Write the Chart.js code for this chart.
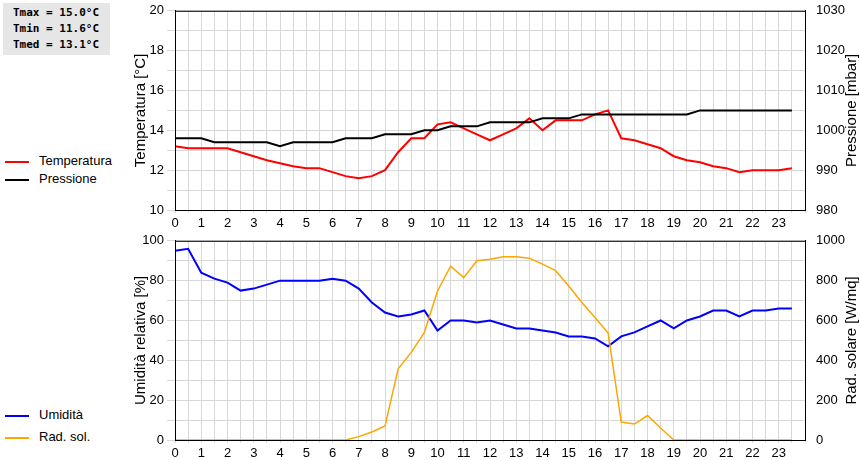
<!DOCTYPE html>
<html>
<head>
<meta charset="utf-8">
<script src="https://cdn.jsdelivr.net/npm/chart.js@4/dist/chart.umd.min.js"></script>
<style>
body{margin:0;background:#fff;font-family:"Liberation Sans",sans-serif;}
#wrap{position:relative;width:860px;height:460px;}
.cv{position:absolute;left:130px;width:730px;height:230px;}
#info{position:absolute;left:3px;top:3px;width:107px;height:52px;background:#e6e6e6;font:bold 11px "DejaVu Sans Mono",monospace;line-height:16px;padding:2px 0 0 10px;box-sizing:border-box;}
.leg{position:absolute;left:5px;font-size:13px;}
.leg span{display:inline-block;width:24px;height:2px;vertical-align:middle;margin-right:10px;}
</style>
</head>
<body>
<div id="wrap">
<div id="info">Tmax = 15.0°C<br>Tmin = 11.6°C<br>Tmed = 13.1°C</div>
<div class="leg" style="top:153px"><span style="background:#f00"></span>Temperatura</div>
<div class="leg" style="top:171px"><span style="background:#000"></span>Pressione</div>
<div class="leg" style="top:407px"><span style="background:#00f"></span>Umidità</div>
<div class="leg" style="top:429px"><span style="background:#ffa500"></span>Rad. sol.</div>
<div class="cv" style="top:0"><canvas id="top"></canvas></div>
<div class="cv" style="top:230px"><canvas id="bottom"></canvas></div>
</div>
<script>
Chart.defaults.font.family = "'Liberation Sans', Arial, sans-serif";

// half-hour samples, 0 .. 23.5
let hours = [];
for(let i = 0; i < 48; i++) hours.push(i / 2);

let temperatura = [13.2,13.1,13.1,13.1,13.1,12.9,12.7,12.5,12.35,12.2,12.1,12.1,11.9,11.7,11.6,11.7,
	12.0,12.9,13.6,13.6,14.3,14.4,14.1,13.8,13.5,13.8,14.1,14.6,14.0,14.5,14.5,14.5,
	14.8,15.0,13.6,13.5,13.3,13.1,12.7,12.5,12.4,12.2,12.1,11.9,12.0,12.0,12.0,12.1];
let pressione = [998,998,998,997,997,997,997,997,996,997,997,997,997,998,998,998,
	999,999,999,1000,1000,1001,1001,1001,1002,1002,1002,1002,1003,1003,1003,1004,
	1004,1004,1004,1004,1004,1004,1004,1004,1005,1005,1005,1005,1005,1005,1005,1005];
let umidita = [95,96,84,81,79,75,76,78,80,80,80,80,81,80,76,69,
	64,62,63,65,55,60,60,59,60,58,56,56,55,54,52,52,
	51,47,52,54,57,60,56,60,62,65,65,62,65,65,66,66];
let radSol = [0,0,0,0,0,0,0,0,0,0,0,0,0,0,17,40,
	70,357,440,540,748,873,815,900,907,920,920,913,883,850,773,690,
	615,537,90,80,123,60,0,0,0,0,0,0,0,0,0,0];

function pts(arr){
	return arr.map((v, i) => ({x: hours[i], y: v}));
}

// border around plot + right axis title read bottom-to-top
let frame = {
	id: "frame",
	afterDraw(chart, args, opts){
		let a = chart.chartArea, ctx = chart.ctx;
		ctx.save();
		ctx.strokeStyle = "#000";
		ctx.lineWidth = 1;
		ctx.strokeRect(a.left + 0.5, a.top + 0.5, a.right - a.left, a.bottom - a.top);
		ctx.translate(chart.width - 8, (a.top + a.bottom) / 2);
		ctx.rotate(-Math.PI / 2);
		ctx.fillStyle = "#000";
		ctx.font = "15px 'Liberation Sans', Arial, sans-serif";
		ctx.textAlign = "center";
		ctx.textBaseline = "middle";
		ctx.fillText(opts.title, 0, 0);
		ctx.restore();
	}
};

function xAxis(){
	return {
		type: "linear", min: 0, max: 24,
		afterFit: s => { s.height = 20; },
		ticks: {stepSize: 0.5, autoSkip: false, maxRotation: 0, color: "#000", font: {size: 13},
			callback: v => (Number.isInteger(v) && v < 24) ? v : ""},
		grid: {color: "#d8d8d8", tickLength: 3},
		border: {color: "#000"}
	};
}

function yAxis(pos, min, max, step, labelStep, title, grid){
	return {
		position: pos, min: min, max: max,
		afterFit: s => { s.width = pos == "left" ? 45 : 55; },
		ticks: {stepSize: step, color: "#000", font: {size: 13},
			callback: v => (Math.round(v - min) % labelStep == 0) ? v : ""},
		grid: {display: grid, color: "#d8d8d8"},
		border: {color: "#000"},
		title: {display: pos == "left", text: title, color: "#000", font: {size: 15}, padding: 2}
	};
}

function makeChart(id, sets, yL, yR, rightTitle){
	new Chart(document.getElementById(id), {
		type: "line",
		data: {datasets: sets},
		options: {
			responsive: true, maintainAspectRatio: false, animation: false,
			layout: {padding: {top: 10}},
			plugins: {legend: {display: false}, tooltip: {enabled: false}, frame: {title: rightTitle}},
			elements: {point: {radius: 0}, line: {tension: 0}},
			scales: {x: xAxis(), yL: yL, yR: yR}
		},
		plugins: [frame]
	});
}

makeChart("top", [
	{data: pts(pressione), borderColor: "#000", borderWidth: 2, yAxisID: "yR"},
	{data: pts(temperatura), borderColor: "#f00", borderWidth: 2, yAxisID: "yL"}
], yAxis("left", 10, 20, 1, 2, "Temperatura [°C]", true),
   yAxis("right", 980, 1030, 10, 10, "", false), "Pressione [mbar]");

makeChart("bottom", [
	{data: pts(radSol), borderColor: "#ffa500", borderWidth: 1.5, yAxisID: "yR"},
	{data: pts(umidita), borderColor: "#00f", borderWidth: 2, yAxisID: "yL"}
], yAxis("left", 0, 100, 10, 20, "Umidità relativa [%]", true),
   yAxis("right", 0, 1000, 200, 200, "", false), "Rad. solare [W/mq]");
</script>
</body>
</html>
